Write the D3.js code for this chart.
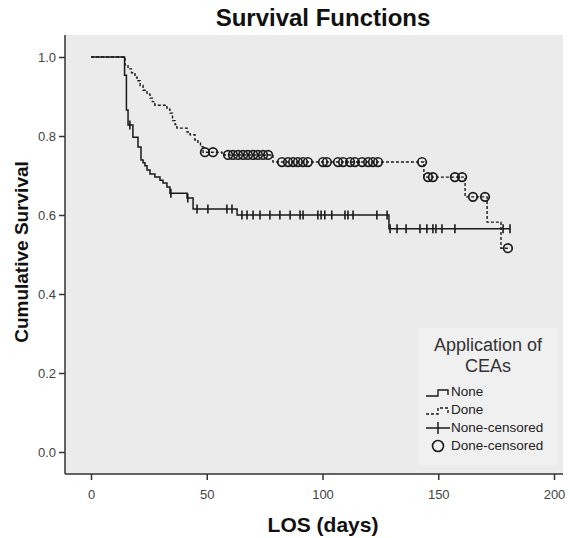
<!DOCTYPE html>
<html>
<head>
<meta charset="utf-8">
<script src="https://cdn.jsdelivr.net/npm/d3@7"></script>
<style>
  html, body { margin: 0; padding: 0; background: #fff; }
  svg { display: block; font-family: "Liberation Sans", Arial, sans-serif; }
</style>
</head>
<body>
<div id="chart"></div>
<script>
// None group: event times (days) and survival after each step
const noneTimes = [14.5, 15.3, 16.0, 18.1, 20.3, 21.6, 22.5, 23.3, 24.2, 25.5, 27.6, 29.8, 31.1, 32.8, 34.1, 41.5, 44.1, 63.1, 128.7];
const noneSurv  = [0.954, 0.866, 0.828, 0.797, 0.772, 0.739, 0.732, 0.725, 0.714, 0.704, 0.696, 0.688, 0.681, 0.671, 0.655, 0.643, 0.615, 0.600, 0.565];
const noneEnd = 181;
const noneCensored = [16.8, 34.5, 41.8, 45.8, 50.5, 58.7, 60.9, 65.2, 67.4, 70, 73, 77.3, 81.6, 86, 90.3, 91.6, 98, 99.4, 101, 104,
  109.7, 111, 113.2, 123.5, 127.9, 129.2, 132.2, 136.1, 142.1, 145.1, 147.7, 149, 151.6, 157.2, 178, 181];

// Done group
const doneTimes = [14.7, 16.0, 17.5, 19.0, 19.9, 21.2, 22.5, 24.2, 25.5, 26.5, 27.6, 32.8, 34.1, 35.2, 36.3, 37.1, 41.5, 42.8, 44.9, 46.2,
  47.3, 48.4, 56.6, 78.6, 143.8, 161.6, 171.1, 177.1];
const doneSurv  = [0.980, 0.970, 0.960, 0.949, 0.940, 0.928, 0.916, 0.906, 0.896, 0.887, 0.878, 0.868, 0.858, 0.839, 0.829, 0.820, 0.810,
  0.803, 0.790, 0.782, 0.773, 0.759, 0.752, 0.734, 0.696, 0.646, 0.582, 0.516];
const doneEnd = 180.1;
const doneCensored = [49.2, 52.7, 59.2, 61.3, 63.5, 65.7, 67.8, 70, 72.1, 74.3, 76.5, 82.5, 85.1, 87.3, 89.4, 91.6, 93.7, 100.2, 101.9,
  106.7, 108.9, 111.9, 114, 117.1, 119.7, 121.8, 124, 143.0, 145.6, 147.7, 157.2, 160.3, 165, 170.2, 180.1];

const xTicks = [0, 50, 100, 150, 200];
const yTicks = [0, 0.2, 0.4, 0.6, 0.8, 1.0];
const legendItems = ['None', 'Done', 'None-censored', 'Done-censored'];

(function () {
  const W = 570, H = 538;
  const frame = { left: 65, top: 35, right: 563, bottom: 474 };
  const ink = '#1a1a1a';

  const x = d3.scaleLinear().domain([0, 200]).range([91, 554]);
  const y = d3.scaleLinear().domain([0, 1]).range([452, 57]);

  const svg = d3.select('#chart').append('svg')
    .attr('width', W).attr('height', H);

  // plot background
  svg.append('rect')
    .attr('x', frame.left).attr('y', frame.top)
    .attr('width', frame.right - frame.left)
    .attr('height', frame.bottom - frame.top)
    .attr('fill', '#ebebeb');

  // axes
  const yAxis = svg.append('g')
    .attr('transform', `translate(${frame.left},0)`)
    .call(d3.axisLeft(y).tickValues(yTicks).tickFormat(d3.format('.1f')).tickSize(6).tickSizeOuter(0));
  yAxis.select('.domain').attr('d', `M0,${frame.top}V${frame.bottom}`);

  const xAxis = svg.append('g')
    .attr('transform', `translate(0,${frame.bottom})`)
    .call(d3.axisBottom(x).tickValues(xTicks).tickSize(6).tickSizeOuter(0));
  xAxis.select('.domain').attr('d', `M${frame.left},0H${frame.right}`);

  [xAxis, yAxis].forEach(g => {
    g.select('.domain').attr('stroke', '#333').attr('stroke-width', 1.5);
    g.selectAll('.tick line').attr('stroke', '#333').attr('stroke-width', 1.5);
    g.selectAll('.tick text').attr('fill', '#444').attr('font-size', 13)
      .attr('font-family', '"Liberation Sans", Arial, sans-serif');
  });
  xAxis.selectAll('.tick text').attr('dy', '1.2em');

  // titles
  svg.append('text')
    .attr('x', 323).attr('y', 26)
    .attr('text-anchor', 'middle')
    .attr('font-size', 24).attr('font-weight', 700).attr('fill', '#111')
    .text('Survival Functions');

  svg.append('text')
    .attr('x', 323).attr('y', 532)
    .attr('text-anchor', 'middle')
    .attr('font-size', 21).attr('font-weight', 700).attr('fill', '#111')
    .text('LOS (days)');

  svg.append('text')
    .attr('transform', 'translate(28,252) rotate(-90)')
    .attr('text-anchor', 'middle')
    .attr('font-size', 19).attr('font-weight', 700).attr('fill', '#111')
    .text('Cumulative Survival');

  // step curves
  function toSteps(times, surv, end) {
    const pts = [[0, 1]];
    times.forEach((t, i) => pts.push([t, surv[i]]));
    pts.push([end, surv[surv.length - 1]]);
    return pts;
  }
  function survAt(times, surv, t) {
    let s = 1;
    times.forEach((tt, i) => { if (tt <= t) s = surv[i]; });
    return s;
  }

  const line = d3.line()
    .x(d => x(d[0]))
    .y(d => y(d[1]))
    .curve(d3.curveStepAfter);

  const plot = svg.append('g');

  plot.append('path')
    .datum(toSteps(doneTimes, doneSurv, doneEnd))
    .attr('d', line)
    .attr('fill', 'none')
    .attr('stroke', ink)
    .attr('stroke-width', 1.4)
    .attr('stroke-dasharray', '3,2');

  plot.append('path')
    .datum(toSteps(noneTimes, noneSurv, noneEnd))
    .attr('d', line)
    .attr('fill', 'none')
    .attr('stroke', ink)
    .attr('stroke-width', 1.5);

  // censored marks
  plot.selectAll('line.none-cens')
    .data(noneCensored)
    .enter()
    .append('line')
    .attr('class', 'none-cens')
    .attr('x1', d => x(d)).attr('x2', d => x(d))
    .attr('y1', d => y(survAt(noneTimes, noneSurv, d)) - 4.5)
    .attr('y2', d => y(survAt(noneTimes, noneSurv, d)) + 4.5)
    .attr('stroke', ink)
    .attr('stroke-width', 1.6);

  plot.selectAll('circle.done-cens')
    .data(doneCensored)
    .enter()
    .append('circle')
    .attr('class', 'done-cens')
    .attr('cx', d => x(d))
    .attr('cy', d => y(survAt(doneTimes, doneSurv, d)))
    .attr('r', 4.3)
    .attr('fill', 'none')
    .attr('stroke', ink)
    .attr('stroke-width', 1.7);

  // legend
  const lg = svg.append('g').attr('transform', 'translate(418,328)');
  lg.append('rect')
    .attr('width', 140).attr('height', 137)
    .attr('fill', '#f0f0f0');

  lg.append('text')
    .attr('x', 70).attr('y', 23)
    .attr('text-anchor', 'middle')
    .attr('font-size', 18).attr('fill', '#333')
    .text('Application of');
  lg.append('text')
    .attr('x', 70).attr('y', 44)
    .attr('text-anchor', 'middle')
    .attr('font-size', 18).attr('fill', '#333')
    .text('CEAs');

  const rowY = [68, 86, 104, 122];
  const sx = 8, ex = 32;
  legendItems.forEach((name, i) => {
    const g = lg.append('g').attr('transform', `translate(0,${rowY[i]})`);
    if (i < 2) {
      g.append('path')
        .attr('d', `M${sx},0H${sx + 12}V-6H${ex - 2}V-1`)
        .attr('fill', 'none')
        .attr('stroke', ink)
        .attr('stroke-width', 1.4)
        .attr('stroke-dasharray', i === 1 ? '3,2' : null);
    } else if (i === 2) {
      g.append('line').attr('x1', sx).attr('x2', ex).attr('y1', -4).attr('y2', -4)
        .attr('stroke', ink).attr('stroke-width', 1.5);
      g.append('line').attr('x1', 20).attr('x2', 20).attr('y1', -10).attr('y2', 2)
        .attr('stroke', ink).attr('stroke-width', 1.5);
    } else {
      g.append('circle').attr('cx', 20).attr('cy', -4).attr('r', 5.5)
        .attr('fill', 'none').attr('stroke', ink).attr('stroke-width', 1.6);
    }
    g.append('text')
      .attr('x', ex + 1).attr('y', 0)
      .attr('font-size', 13.5).attr('fill', '#222')
      .text(name);
  });
})();
</script>
</body>
</html>
